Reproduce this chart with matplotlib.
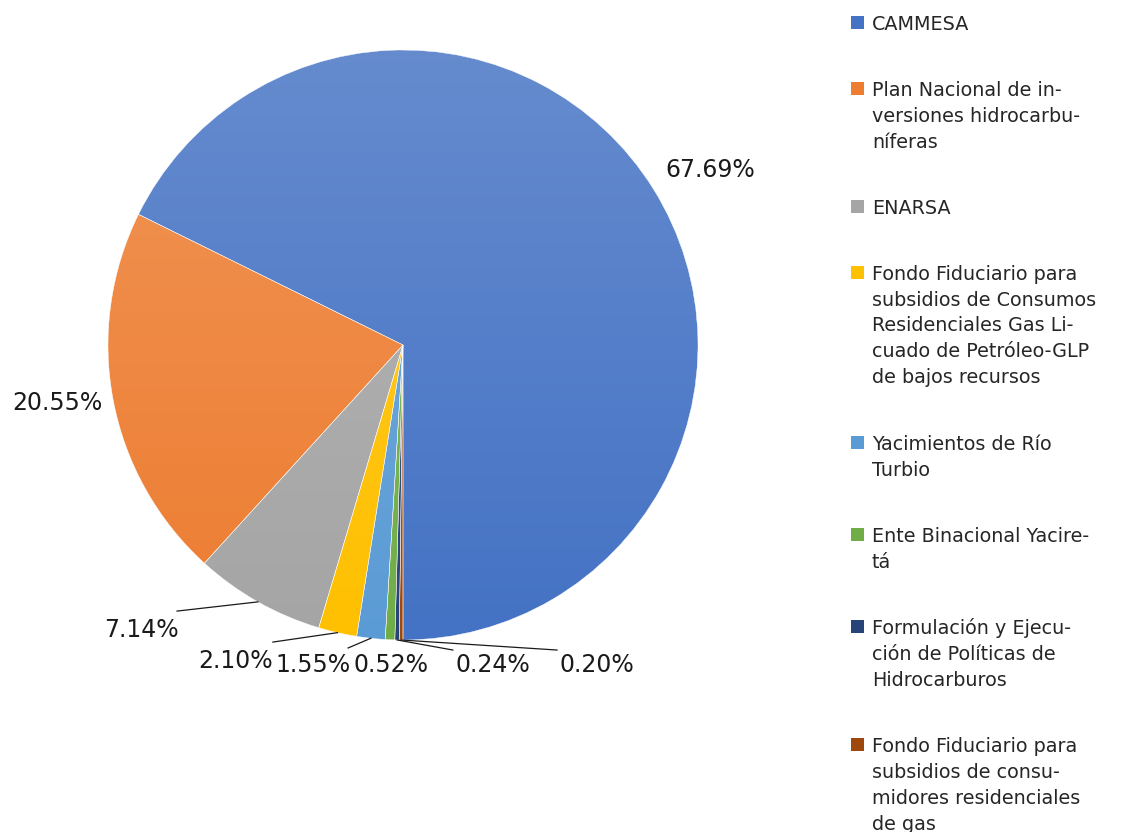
import numpy as np
import matplotlib
matplotlib.use("Agg")
import matplotlib.pyplot as plt
from matplotlib.colors import to_rgb
from matplotlib.patches import Rectangle

# --- Datos ---
categorias = [
    "CAMMESA",
    "Plan Nacional de in-\nversiones hidrocarbu-\nníferas",
    "ENARSA",
    "Fondo Fiduciario para\nsubsidios de Consumos\nResidenciales Gas Li-\ncuado de Petróleo-GLP\nde bajos recursos",
    "Yacimientos de Río\nTurbio",
    "Ente Binacional Yacire-\ntá",
    "Formulación y Ejecu-\nción de Políticas de\nHidrocarburos",
    "Fondo Fiduciario para\nsubsidios de consu-\nmidores residenciales\nde gas",
]
porcentajes = [67.69, 20.55, 7.14, 2.10, 1.55, 0.52, 0.24, 0.20]
etiquetas = ["67.69%", "20.55%", "7.14%", "2.10%", "1.55%", "0.52%", "0.24%", "0.20%"]
colores = ["#4472C4", "#ED7D31", "#A5A5A5", "#FFC000",
           "#5B9BD5", "#70AD47", "#264478", "#9E480E"]

# posiciones de las etiquetas (en radios) y extremo de la línea guía
pos_etiquetas = [(1.041, 0.593), (-1.173, -0.197), (-0.888, -0.966), (-0.566, -1.071),
                 (-0.305, -1.085), (-0.041, -1.085), (0.305, -1.085), (0.658, -1.085)]
fin_lineas = [None, None, (-0.766, -0.902), (-0.441, -1.007),
              (-0.186, -1.027), None, (0.169, -1.034), (0.522, -1.034)]

plt.rcParams['font.family'] = ['DejaVu Sans']

W, H = 1129, 832
fig = plt.figure(figsize=(W / 100, H / 100), dpi=100)
ax = fig.add_axes([108 / W, (H - 640) / H, 590 / W, 590 / H])

wedges, _ = ax.pie(porcentajes, colors=colores, startangle=-90, counterclock=True,
                   radius=1, wedgeprops=dict(edgecolor='white', linewidth=0.3))

# degradado vertical (más claro arriba), recortado a cada porción
t = np.linspace(0, 1, 256)[:, None]
for w, c in zip(wedges, colores):
    base = np.array(to_rgb(c))
    a = 0.18 * t
    rgb = base[None, :] * (1 - a) + a
    img = np.dstack([rgb[:, 0:1], rgb[:, 1:2], rgb[:, 2:3], np.ones_like(t)])
    im = ax.imshow(img, extent=[-1, 1, -1, 1], origin='lower', aspect='auto',
                   interpolation='bilinear', zorder=w.get_zorder() + 0.1)
    im.set_clip_path(w)
    w.set_facecolor('none')
    w.set_zorder(w.get_zorder() + 0.2)

ax.set_xlim(-1, 1)
ax.set_ylim(-1, 1)
ax.set_aspect('equal')
ax.axis('off')

# etiquetas de porcentaje
for w, txt, (lx, ly), fin in zip(wedges, etiquetas, pos_etiquetas, fin_lineas):
    ang = np.deg2rad((w.theta1 + w.theta2) / 2)
    if fin is not None:
        ax.plot([np.cos(ang), fin[0]], [np.sin(ang), fin[1]], color='#1a1a1a',
                lw=0.9, clip_on=False, zorder=5)
    ax.text(lx, ly, txt, ha='center', va='center', fontsize=17,
            color='#1a1a1a', clip_on=False)

# leyenda manual
y = 22
for cat, c in zip(categorias, colores):
    lineas = cat.split("\n")
    fig.patches.append(Rectangle((851 / W, 1 - (y + 6.5) / H), 13 / W, 13 / H,
                                 transform=fig.transFigure, facecolor=c,
                                 edgecolor='none'))
    for k, ln in enumerate(lineas):
        fig.text(872 / W, 1 - (y + 26 * k) / H, ln, ha='left', va='center_baseline',
                 fontsize=13.8, color='#262626')
    y += 26 * (len(lineas) - 1) + 66

fig.savefig("out.png", dpi=100)
